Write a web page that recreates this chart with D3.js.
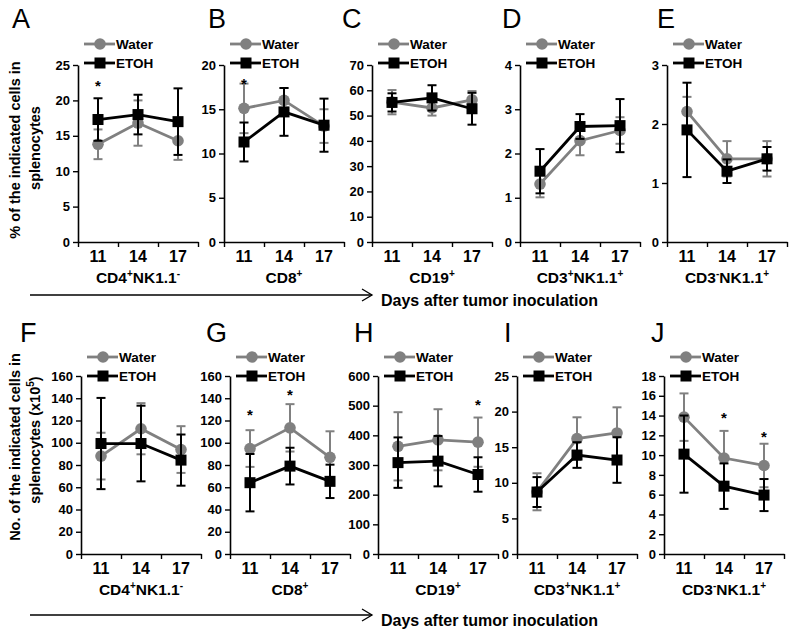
<!DOCTYPE html>
<html>
<head>
<meta charset="utf-8">
<script src="https://cdn.jsdelivr.net/npm/d3@7"></script>
<style>
  body { margin: 0; background: #fff; }
  svg { font-family: "Liberation Sans", Arial, sans-serif; }
</style>
</head>
<body>
<svg width="800" height="632"></svg>
<script>
// categories
const days = ['11', '14', '17'];
const topLetters = ['A', 'B', 'C', 'D', 'E'];
const bottomLetters = ['F', 'G', 'H', 'I', 'J'];
// cell type labels: [base, sup, base, sup]
const cellTypes = [
  ['CD4', '+', 'NK1.1', '-'],
  ['CD8', '+', '', ''],
  ['CD19', '+', '', ''],
  ['CD3', '+', 'NK1.1', '+'],
  ['CD3', '-', 'NK1.1', '+']
];

// y tick values
const pctTicks = [
  [0, 5, 10, 15, 20, 25],
  [0, 5, 10, 15, 20],
  [0, 10, 20, 30, 40, 50, 60, 70],
  [0, 1, 2, 3, 4],
  [0, 1, 2, 3]
];
const numTicks = [
  [0, 20, 40, 60, 80, 100, 120, 140, 160],
  [0, 20, 40, 60, 80, 100, 120, 140, 160],
  [0, 100, 200, 300, 400, 500, 600],
  [0, 5, 10, 15, 20, 25],
  [0, 2, 4, 6, 8, 10, 12, 14, 16, 18]
];

// % of cells (top row)
const waterPct = [[13.8, 16.8, 14.3], [15.1, 16.0, 13.1], [55.3, 53.0, 56.2], [1.31, 2.29, 2.52], [2.21, 1.41, 1.41]];
const waterPctErr = [[2.1, 3.2, 2.7], [2.8, 1.4, 1.9], [4.8, 3.0, 3.5], [0.3, 0.33, 0.3], [0.25, 0.3, 0.3]];
const etohPct = [[17.3, 18.0, 17.0], [11.3, 14.7, 13.2], [55.2, 57.0, 52.7], [1.6, 2.61, 2.63], [1.9, 1.2, 1.41]];
const etohPctErr = [[3.0, 2.8, 4.7], [2.2, 2.7, 3.0], [3.6, 5.0, 6.3], [0.5, 0.28, 0.6], [0.8, 0.2, 0.2]];

// number of cells x10^5 (bottom row)
const waterNum = [[88.0, 112.6, 93.9], [94.8, 113.4, 86.9], [363, 385, 377], [8.74, 16.2, 17.0], [13.84, 9.7, 8.95]];
const waterNumErr = [[21, 23, 21], [16.5, 21.3, 23.4], [115, 103, 83], [2.6, 3.0, 3.6], [2.4, 2.75, 2.2]];
const etohNum = [[99.3, 99.3, 84.4], [64.1, 79.0, 65.3], [308, 313, 268], [8.7, 13.9, 13.2], [10.1, 6.86, 5.96]];
const etohNumErr = [[41, 34, 23], [25.8, 16.5, 15], [85, 85, 58], [2.1, 1.8, 3.2], [3.9, 2.3, 1.62]];

// significance stars: [panel index, day index, y value]
const pctStars = [[0, 0, 22.6], [1, 0, 18.3]];
const numStars = [[1, 0, 128.6], [1, 1, 146.8], [2, 2, 517], [4, 1, 14.2], [4, 2, 12.2]];

const svg = d3.select('svg');
const gray = '#808080';

// layout
const topRow = { x0: [78, 224, 372, 520, 667], top: 65, bottom: 242, letterX: [12, 208, 342, 502, 657], letterY: 28, legendY: 44 };
const bottomRow = { x0: [81, 230, 378, 517, 664], top: 376, bottom: 554, letterX: [20, 206, 354, 504, 651], letterY: 342, legendY: 357 };
const plotW = 120;

function drawPanel(row, i, ticks, water, waterErr, etoh, etohErr, letters, stars) {
  const x0 = row.x0[i];
  const x = d3.scaleBand().domain(days).range([x0, x0 + plotW]);
  const y = d3.scaleLinear().domain([0, d3.max(ticks)]).range([row.bottom, row.top]);
  const g = svg.append('g');

  // y axis
  const ya = g.append('g')
    .attr('transform', `translate(${x0},0)`)
    .call(d3.axisLeft(y).tickValues(ticks).tickFormat(d3.format('d')).tickSize(5).tickSizeOuter(0).tickPadding(3));
  ya.select('.domain').attr('stroke-width', 1.6);
  ya.selectAll('line').attr('stroke-width', 1.4);
  ya.selectAll('text').attr('font-size', 13).attr('font-weight', 'bold');

  // x axis, labels under category centres
  const xa = g.append('g')
    .attr('transform', `translate(0,${row.bottom})`)
    .call(d3.axisBottom(x).tickSize(0).tickPadding(9));
  xa.select('.domain').attr('stroke-width', 1.6);
  xa.selectAll('text').attr('font-size', 16).attr('font-weight', 'bold');

  // tick marks at category boundaries
  const xb = d3.scaleLinear().domain([0, days.length]).range([x0, x0 + plotW]);
  const xt = g.append('g')
    .attr('transform', `translate(0,${row.bottom})`)
    .call(d3.axisBottom(xb).tickValues(d3.range(days.length + 1)).tickFormat('').tickSize(5).tickSizeOuter(0));
  xt.select('.domain').remove();
  xt.selectAll('line').attr('stroke-width', 1.4);

  // category label
  const ct = cellTypes[i];
  const lab = g.append('text')
    .attr('x', x0 + plotW / 2)
    .attr('y', row.bottom + 41)
    .attr('text-anchor', 'middle')
    .attr('font-size', 15.5).attr('font-weight', 'bold');
  lab.append('tspan').text(ct[0]);
  lab.append('tspan').text(ct[1]).attr('font-size', 10).attr('dy', -6);
  if (ct[2]) {
    lab.append('tspan').text(ct[2]).attr('dy', 6);
    lab.append('tspan').text(ct[3]).attr('font-size', 10).attr('dy', -6);
  }

  // panel letter
  g.append('text')
    .attr('x', row.letterX[i]).attr('y', row.letterY)
    .attr('font-size', 27)
    .text(letters[i]);

  const cx = d => x(d) + x.bandwidth() / 2;
  const series = [
    { vals: water[i], errs: waterErr[i], color: gray, shape: 'circle' },
    { vals: etoh[i], errs: etohErr[i], color: '#000', shape: 'square' }
  ];
  const line = d3.line().x((v, j) => cx(days[j])).y(v => y(v));

  series.forEach(s => {
    // error bars
    const eb = g.append('g').attr('stroke', s.color).attr('stroke-width', 2);
    s.vals.forEach((v, j) => {
      const px = cx(days[j]);
      eb.append('line').attr('x1', px).attr('x2', px).attr('y1', y(v - s.errs[j])).attr('y2', y(v + s.errs[j]));
      [v - s.errs[j], v + s.errs[j]].forEach(e => {
        eb.append('line').attr('x1', px - 4.5).attr('x2', px + 4.5).attr('y1', y(e)).attr('y2', y(e));
      });
    });
    g.append('path')
      .attr('d', line(s.vals))
      .attr('fill', 'none')
      .attr('stroke', s.color)
      .attr('stroke-width', 2.8);
    s.vals.forEach((v, j) => {
      const px = cx(days[j]);
      if (s.shape === 'circle') {
        g.append('circle').attr('cx', px).attr('cy', y(v)).attr('r', 5.8).attr('fill', s.color);
      } else {
        g.append('rect').attr('x', px - 5.5).attr('y', y(v) - 5.5).attr('width', 11).attr('height', 11).attr('fill', s.color);
      }
    });
  });

  // legend
  const legend = [['Water', gray, 'circle'], ['ETOH', '#000', 'square']];
  legend.forEach((d, k) => {
    const ly = row.legendY + k * 19;
    g.append('line')
      .attr('x1', x0 + 6).attr('x2', x0 + 37).attr('y1', ly).attr('y2', ly)
      .attr('stroke', d[1]).attr('stroke-width', 2.8);
    if (d[2] === 'circle') {
      g.append('circle').attr('cx', x0 + 22).attr('cy', ly).attr('r', 5.8).attr('fill', d[1]);
    } else {
      g.append('rect').attr('x', x0 + 16.5).attr('y', ly - 5.5).attr('width', 11).attr('height', 11).attr('fill', d[1]);
    }
    g.append('text')
      .attr('x', x0 + 38).attr('y', ly + 5)
      .attr('font-size', 13.5).attr('font-weight', 'bold')
      .text(d[0]);
  });

  // stars
  stars.filter(s => s[0] === i).forEach(s => {
    g.append('text')
      .attr('x', cx(days[s[1]])).attr('y', y(s[2]) + 9)
      .attr('text-anchor', 'middle')
      .attr('font-size', 15).attr('font-weight', 'bold')
      .text('*');
  });
}

for (let i = 0; i < 5; i++) {
  drawPanel(topRow, i, pctTicks[i], waterPct, waterPctErr, etohPct, etohPctErr, topLetters, pctStars);
  drawPanel(bottomRow, i, numTicks[i], waterNum, waterNumErr, etohNum, etohNumErr, bottomLetters, numStars);
}

// y axis titles
function yTitle(xp, yp, build) {
  const t = svg.append('text')
    .attr('transform', `translate(${xp},${yp}) rotate(-90)`)
    .attr('text-anchor', 'middle')
    .attr('font-size', 14.5).attr('font-weight', 'bold');
  build(t);
}
yTitle(20, 150, t => t.text('% of the indicated cells in'));
yTitle(40, 148, t => t.text('splenocytes'));
yTitle(20, 447, t => t.text('No. of the indicated cells in'));
yTitle(40, 440, t => {
  t.append('tspan').text('splenocytes (x10');
  t.append('tspan').text('5').attr('font-size', 10).attr('dy', -6);
  t.append('tspan').text(')').attr('dy', 6);
});

// arrows with "Days after tumor inoculation"
[295, 615].forEach(ay => {
  svg.append('line').attr('x1', 30).attr('x2', 372).attr('y1', ay).attr('y2', ay)
    .attr('stroke', '#000').attr('stroke-width', 1.3);
  svg.append('path').attr('d', `M362,${ay - 6} L372,${ay} L362,${ay + 6}`)
    .attr('fill', 'none').attr('stroke', '#000').attr('stroke-width', 1.3);
  svg.append('text').attr('x', 381).attr('y', ay + 11)
    .attr('font-size', 16).attr('font-weight', 'bold')
    .text('Days after tumor inoculation');
});
</script>
</body>
</html>
